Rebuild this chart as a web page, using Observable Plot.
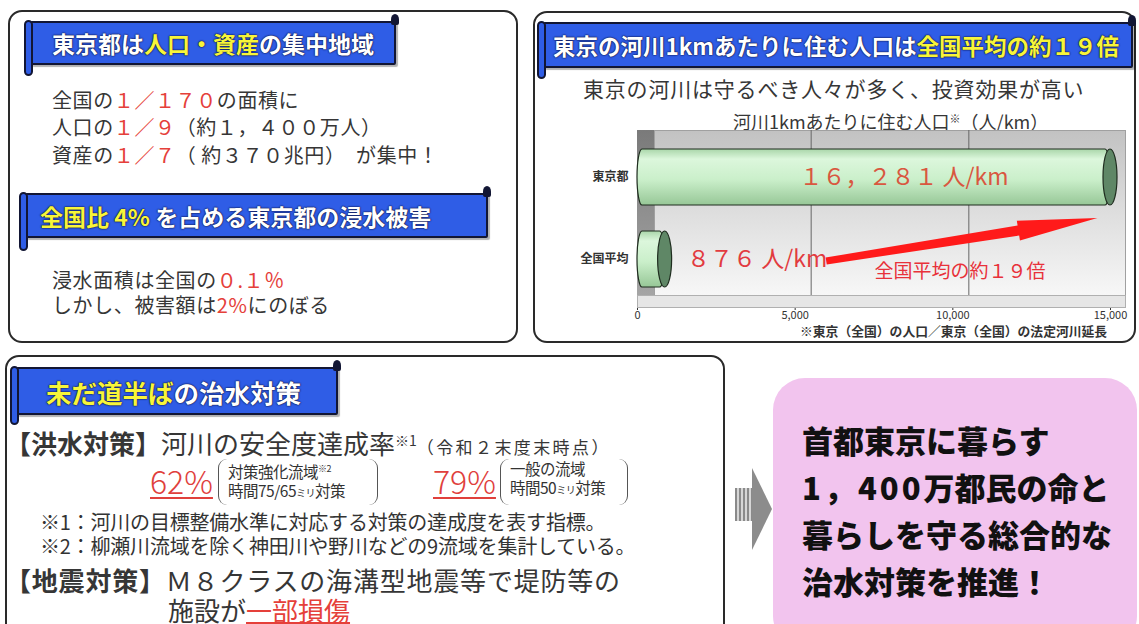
<!DOCTYPE html>
<html><head><meta charset="utf-8">
<script src="https://cdn.jsdelivr.net/npm/d3@7"></script>
<script src="https://cdn.jsdelivr.net/npm/@observablehq/plot@0.6"></script>
<style>
html,body{margin:0;padding:0;background:#fff;}
body{width:1139px;height:624px;overflow:hidden;position:relative;font-family:"Noto Sans CJK JP","Noto Sans",sans-serif;color:#363636;}
.abs{position:absolute;white-space:nowrap;}
.panel{position:absolute;border:2px solid #2a2a2a;border-radius:14px;background:#fff;box-sizing:border-box;}
.banner{position:absolute;background:#2f5de6;border:2.5px solid #121634;border-radius:2px;box-sizing:border-box;box-shadow:2px 2px 1px rgba(0,0,0,.3);}
.banner .txt{position:absolute;top:0;bottom:0;display:flex;align-items:center;color:#fff;font-weight:700;font-size:23px;white-space:nowrap;text-shadow:0 0 1.5px #0a0a30,0 0 1.5px #0a0a30;}
.banner .pill{position:absolute;left:-8px;top:-3px;width:5px;background:#2f5de6;border:2.5px solid #121634;border-radius:5px;}
.banner .curl{position:absolute;right:-5px;top:-9px;width:8px;height:11px;background:#121634;border-radius:50% 50% 2px 2px;}
.y{color:#f7f53a;}
.r{color:#e5403a;}
.t20{font-size:20px;line-height:28px;letter-spacing:0.6px;}
.sup{font-size:12px;vertical-align:8px;}
.big{font-size:26px;line-height:26px;}
.pct{font-size:32px;font-weight:300;color:#e0403c;text-decoration:underline;text-decoration-thickness:2px;text-underline-offset:3px;line-height:36px;}
.brk{position:absolute;border-left:1.5px solid #555;border-right:1.5px solid #555;border-radius:9px;box-sizing:border-box;font-size:15.5px;line-height:19px;padding-left:9px;color:#333;letter-spacing:-0.5px;}
.ml{font-size:10px;}
#chart svg [aria-label^="y-axis"] text{font-weight:700;font-size:12px;}
</style></head>
<body>
<!-- Panel 1 -->
<div class="panel" style="left:8px;top:10px;width:510px;height:333px;"></div>
<div class="banner" style="left:30px;top:21px;width:366px;height:44px;">
  <div class="pill" style="height:52px;"></div><div class="curl"></div>
  <div class="txt" style="left:20px;">東京都は<span class="y">人口・資産</span>の集中地域</div>
</div>
<div class="abs t20" style="left:52px;top:86px;">全国の<span class="r">１／１７０</span>の面積に</div>
<div class="abs t20" style="left:52px;top:113px;">人口の<span class="r">１／９</span>（約１，４００万人）</div>
<div class="abs t20" style="left:52px;top:141px;">資産の<span class="r">１／７</span>（ 約３７０兆円）　が集中！</div>
<div class="banner" style="left:25px;top:193px;width:463px;height:45px;">
  <div class="pill" style="height:55px;"></div><div class="curl"></div>
  <div class="txt" style="left:13px;"><span class="y">全国比 4%</span>&nbsp;を占める東京都の浸水被害</div>
</div>
<div class="abs t20" style="left:52px;top:266px;">浸水面積は全国の<span class="r">０.１％</span></div>
<div class="abs t20" style="left:52px;top:291px;">しかし、被害額は<span class="r">2%</span>にのぼる</div>

<!-- Panel 2 -->
<div class="panel" style="left:533px;top:11px;width:603px;height:332px;"></div>
<div class="banner" style="left:543px;top:22px;width:590px;height:46px;">
  <div class="pill" style="height:54px;"></div><div class="curl"></div>
  <div class="txt" style="left:8px;font-size:22.5px;">東京の河川1kmあたりに住む人口は<span class="y">全国平均の約１９倍</span></div>
</div>
<div class="abs" style="left:583px;top:74px;font-size:21px;line-height:28px;letter-spacing:0.8px;">東京の河川は守るべき人々が多く、投資効果が高い</div>
<div class="abs" style="left:733px;top:105px;font-size:18px;line-height:26px;">河川1kmあたりに住む人口<span style="font-size:11px;vertical-align:6px;">※</span>（人/km）</div>
<div id="chart" class="abs" style="left:530px;top:125px;width:600px;height:200px;"></div>
<div class="abs" style="left:800px;top:323px;font-size:12.8px;line-height:15px;font-weight:600;color:#333;">※東京（全国）の人口／東京（全国）の法定河川延長</div>

<!-- Panel 3 -->
<div class="panel" style="left:5px;top:355px;width:720px;height:300px;"></div>
<div class="banner" style="left:16px;top:367px;width:322px;height:48px;">
  <div class="pill" style="height:55px;"></div><div class="curl"></div>
  <div class="txt" style="left:28px;font-size:25.5px;"><span class="y">未だ道半ば</span>の治水対策</div>
</div>
<div class="abs big" style="left:5px;top:427px;"><b>【洪水対策】</b>河川の安全度達成率<span class="sup" style="font-size:14px;">※1</span><span style="font-size:17px;letter-spacing:2.4px;">（令和２末度末時点）</span></div>
<div class="abs pct" style="left:150px;top:462px;">62%</div>
<div class="brk" style="left:218px;top:459px;width:160px;height:46px;">対策強化流域<span style="font-size:9px;vertical-align:6px;">※2</span><br>時間75/65<span class="ml">ミリ</span>対策</div>
<div class="abs pct" style="left:433px;top:462px;">79%</div>
<div class="brk" style="left:500px;top:459px;width:128px;height:46px;">一般の流域<br>時間50<span class="ml">ミリ</span>対策</div>
<div class="abs" style="left:40px;top:510px;font-size:20px;line-height:24px;color:#333;letter-spacing:-0.2px;">※1：河川の目標整備水準に対応する対策の達成度を表す指標。</div>
<div class="abs" style="left:40px;top:534px;font-size:20px;line-height:24px;color:#333;letter-spacing:-0.2px;">※2：柳瀬川流域を除く神田川や野川などの9流域を集計している。</div>
<div class="abs big" style="left:5px;top:567px;letter-spacing:0.8px;"><b>【地震対策】</b>Ｍ８クラスの海溝型地震等で堤防等の</div>
<div class="abs big" style="left:168px;top:597px;">施設が<span class="r" style="text-decoration:underline;text-decoration-thickness:2px;">一部損傷</span></div>

<!-- Arrow and pink box -->
<div class="abs" style="left:735px;top:488px;width:18px;height:33px;background:repeating-linear-gradient(90deg,#8a8a8a 0 2px,#d6d6d6 2px 4px);"></div>
<div class="abs" style="left:752px;top:468px;width:0;height:0;border-top:41px solid transparent;border-bottom:41px solid transparent;border-left:20px solid #8c8c8c;"></div>
<div class="abs" style="left:773px;top:378px;width:364px;height:270px;background:#f2c4ee;border-radius:32px;"></div>
<div class="abs" style="left:802px;top:416px;font-size:31px;line-height:47px;font-weight:900;color:#111;">首都東京に暮らす<br><span style="letter-spacing:3px;">1，400</span>万都民の命と<br>暮らしを守る総合的な<br>治水対策を推進！</div>

<script>
// ---- data ----
const categories = ["東京都", "全国平均"];
const values = [16281, 876];
const xTicks = [0, 5000, 10000, 15000];
const xMax = 15000;
const unit = "人/km";

const data = categories.map((name, i) => ({name, value: values[i]}));
const toFull = s => s.replace(/[0-9,]/g, c => c === "," ? "，" : String.fromCharCode(c.charCodeAt(0) + 0xFEE0));
const label = v => toFull(d3.format(",")(v)) + " " + unit;
const ratio = Math.round(values[0] / values[1]);

const plot = Plot.plot({
  width: 600, height: 200,
  marginLeft: 107, marginRight: 20, marginTop: 5, marginBottom: 18,
  style: {fontFamily: '"Noto Sans CJK JP", sans-serif', fontSize: "11px", color: "#333", background: "transparent", overflow: "visible"},
  x: {domain: [0, xMax], clamp: true, ticks: xTicks, tickFormat: d3.format(","), tickSize: 3, tickPadding: 1, line: true, label: null},
  y: {domain: categories, range: [24, 162.5], paddingInner: 0.32, paddingOuter: 0, tickSize: 0, tickPadding: 9, label: null},
  marks: [
    Plot.rect([0], {x1: 0, x2: 0, insetRight: -17, fill: "url(#sideGrad)"}),
    Plot.frame({fill: "url(#wallGrad)", stroke: "#a0a0a0", insetLeft: 17, insetRight: -15, insetBottom: 12}),
    Plot.frame({fill: "#e6e6e6", stroke: "#b0b0b0", insetTop: 165, insetRight: -15}),
    Plot.ruleX([5000, 10000], {dx: 16, stroke: "#666", strokeWidth: 1, insetBottom: 12}),
    Plot.barX(data, {x1: 0, x2: "value", y: "name", fill: "url(#cylGrad)", stroke: "#1f2d1f", strokeWidth: 1.2, rx: 5, ry: 28}),
    Plot.barX(data, {x1: "value", x2: "value", y: "name", insetLeft: -7, insetRight: -7, rx: 7, ry: 28, fill: "#5f8766", stroke: "#1f2d1f", strokeWidth: 1.2}),
    Plot.text(data, {filter: d => d.value > xMax, x: d => Math.min(d.value, xMax) / 2, y: "name", text: d => label(d.value), dx: 30, fill: "#d9573f", fontSize: 23}),
    Plot.text(data, {filter: d => d.value <= xMax, x: "value", y: "name", text: d => label(d.value), textAnchor: "start", dx: 22, fill: "#e23b3f", fontSize: 23}),
    Plot.text([`全国平均の約${toFull(String(ratio))}倍`], {text: d => d, frameAnchor: "bottom-right", textAnchor: "end", dx: -65, dy: -30, fill: "#e8313a", fontSize: 19})
  ]
});
document.getElementById("chart").appendChild(plot);

// gradients
const svg = d3.select(plot);
const defs = svg.insert("defs", ":first-child");
function grad(id, stops) {
  const g = defs.append("linearGradient").attr("id", id).attr("x1", 0).attr("y1", 0).attr("x2", 0).attr("y2", 1);
  stops.forEach(([o, c]) => g.append("stop").attr("offset", o).attr("stop-color", c));
}
grad("cylGrad", [["0", "#a9d6a9"], ["0.18", "#dcf7dc"], ["0.55", "#caefca"], ["1", "#97c797"]]);
grad("wallGrad", [["0", "#c2c2c2"], ["0.5", "#dedede"], ["1", "#f7f7f7"]]);
grad("sideGrad", [["0", "#7a7a7a"], ["1", "#a8a8a8"]]);

// annotation arrow from the national label towards Tokyo bar, placed through the plot scales
const xs = plot.scale("x"), ys = plot.scale("y");
const bw = ys.bandwidth;
const tail = [xs.apply(6000), ys.apply(categories[1]) + bw / 2 + 2];
const tip = [xs.apply(14600), (ys.apply(categories[0]) + bw + ys.apply(categories[1])) / 2];
const dxv = tip[0] - tail[0], dyv = tip[1] - tail[1], L = Math.hypot(dxv, dyv);
const u = [dxv / L, dyv / L], n = [-u[1], u[0]];
const base = [tip[0] - u[0] * 80, tip[1] - u[1] * 80];
const P = (p, k) => [p[0] + n[0] * k, p[1] + n[1] * k];
const pts = [P(tail, -3.5), P(base, -5), P(base, -10), tip, P(base, 10), P(base, 5), P(tail, 3.5)];
svg.append("polygon").attr("points", pts.map(p => p.join(",")).join(" ")).attr("fill", "#ff1a1a");
</script>
</body></html>
